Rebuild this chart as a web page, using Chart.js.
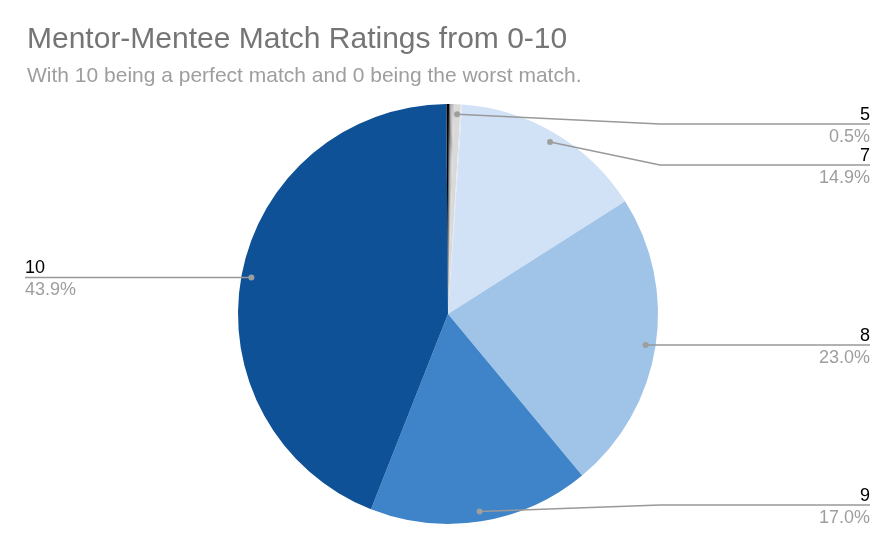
<!DOCTYPE html>
<html>
<head>
<meta charset="utf-8">
<script src="https://cdn.jsdelivr.net/npm/chart.js@4"></script>
<style>
  body { margin: 0; background: #fff; }
  #wrap { width: 896px; height: 548px; position: relative; }
</style>
</head>
<body>
<div id="wrap"><canvas id="graph"></canvas></div>
<script>
// Данные диаграммы
const title = 'Mentor-Mentee Match Ratings from 0-10';
const subtitle = 'With 10 being a perfect match and 0 being the worst match.';
const ratings = ['0', '1', '2', '3', '4', '5', '6', '7', '8', '9', '10'];
const shares = [0.2, 0.1, 0.1, 0.1, 0.1, 0.5, 0.1, 14.9, 23.0, 17.0, 43.9];
const sliceColors = ['#000000', '#666666', '#999999', '#b7b7b7', '#cccccc', '#d9d9d9',
                     '#e3e8ef', '#d2e2f6', '#a0c4e8', '#3f84c8', '#0e5196'];

var cvs = document.getElementById('graph');
var ctx = cvs.getContext('2d');

// Подписи с выносками и заголовок
const labelsPlugin = {
  id: 'calloutLabels',
  afterDraw(chart) {
    const c = chart.ctx;
    const meta = chart.getDatasetMeta(0);
    const data = chart.data.datasets[0].data;
    const total = data.reduce((a, b) => a + b, 0);

    c.save();
    c.textBaseline = 'alphabetic';
    c.textAlign = 'left';
    c.fillStyle = '#757575';
    c.font = '30px "Liberation Sans", Arial, sans-serif';
    c.fillText(title, 27, 48);
    c.fillStyle = '#9e9e9e';
    c.font = '21px "Liberation Sans", Arial, sans-serif';
    c.fillText(subtitle, 27, 82);

    let left = [], right = [];
    meta.data.forEach((arc, i) => {
      const pct = data[i] / total * 100;
      if (pct < 0.5) return;
      const mid = (arc.startAngle + arc.endAngle) / 2;
      const r = arc.outerRadius - 10;
      const px = arc.x + Math.cos(mid) * r;
      const py = arc.y + Math.sin(mid) * r;
      const item = { px, py, name: chart.data.labels[i], pct, side: px >= arc.x ? 1 : -1, cx: arc.x, R: arc.outerRadius };
      (item.side > 0 ? right : left).push(item);
    });

    const place = (list) => {
      list.sort((a, b) => a.py - b.py);
      let prev = -Infinity;
      list.forEach(it => {
        let y = Math.min(Math.max(it.py, 124), 505);
        y = Math.max(y, prev + 41);
        it.ly = y;
        prev = y;
      });
    };
    place(left);
    place(right);

    [...left, ...right].forEach(it => {
      const bendX = it.cx + it.side * (it.R + 2);
      const endX = it.side > 0 ? 870 : 25;
      c.strokeStyle = '#999999';
      c.lineWidth = 1.6;
      c.beginPath();
      c.moveTo(it.px, it.py);
      c.lineTo(bendX, it.ly);
      c.lineTo(endX, it.ly);
      c.stroke();
      c.fillStyle = '#9e9e9e';
      c.beginPath();
      c.arc(it.px, it.py, 3, 0, Math.PI * 2);
      c.fill();

      c.textAlign = it.side > 0 ? 'right' : 'left';
      c.font = '18px "Liberation Sans", Arial, sans-serif';
      c.fillStyle = '#000000';
      c.fillText(it.name, endX, it.ly - 4);
      c.fillStyle = '#9e9e9e';
      c.fillText(it.pct.toFixed(1) + '%', endX, it.ly + 18);
    });
    c.restore();
  }
};

let chart = new Chart(ctx, {
  type: 'pie',
  data: {
    labels: ratings,
    datasets: [{
      data: shares,
      backgroundColor: sliceColors,
      borderWidth: 0
    }]
  },
  options: {
    responsive: true,
    maintainAspectRatio: false,
    animation: false,
    rotation: -0.45,
    layout: { padding: { top: 104, bottom: 24, left: 0, right: 0 } },
    plugins: {
      legend: { display: false },
      tooltip: { enabled: false }
    }
  },
  plugins: [labelsPlugin]
});
</script>
</body>
</html>
